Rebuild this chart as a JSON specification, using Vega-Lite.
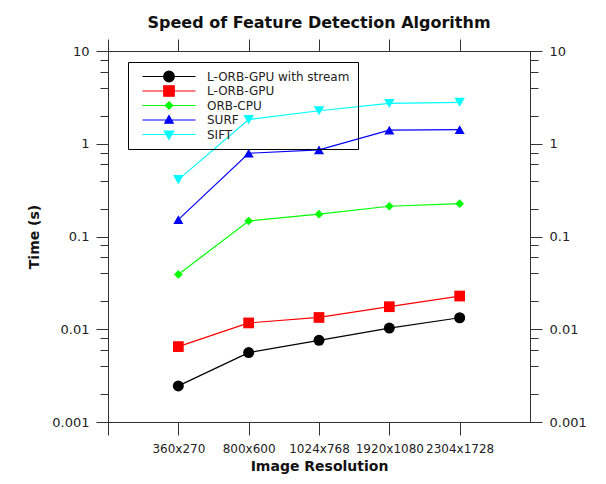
{
  "$schema": "https://vega.github.io/schema/vega-lite/v6.json",
  "width": 422,
  "height": 371,
  "autosize": "none",
  "padding": {"left": 108, "top": 51, "right": 76, "bottom": 62},
  "background": "white",
  "title": {"text": "Speed of Feature Detection Algorithm", "font": "DejaVu Sans", "fontSize": 16, "fontWeight": "bold", "color": "#111", "anchor": "middle", "offset": 8},
  "data": {"values": [
    {"series": "L-ORB-GPU with stream", "res": "360x270", "t": 0.00245},
    {"series": "L-ORB-GPU with stream", "res": "800x600", "t": 0.0056},
    {"series": "L-ORB-GPU with stream", "res": "1024x768", "t": 0.0076},
    {"series": "L-ORB-GPU with stream", "res": "1920x1080", "t": 0.0103},
    {"series": "L-ORB-GPU with stream", "res": "2304x1728", "t": 0.0133},
    {"series": "L-ORB-GPU", "res": "360x270", "t": 0.0065},
    {"series": "L-ORB-GPU", "res": "800x600", "t": 0.0117},
    {"series": "L-ORB-GPU", "res": "1024x768", "t": 0.0134},
    {"series": "L-ORB-GPU", "res": "1920x1080", "t": 0.0175},
    {"series": "L-ORB-GPU", "res": "2304x1728", "t": 0.0228},
    {"series": "ORB-CPU", "res": "360x270", "t": 0.039},
    {"series": "ORB-CPU", "res": "800x600", "t": 0.147},
    {"series": "ORB-CPU", "res": "1024x768", "t": 0.174},
    {"series": "ORB-CPU", "res": "1920x1080", "t": 0.212},
    {"series": "ORB-CPU", "res": "2304x1728", "t": 0.226},
    {"series": "SURF", "res": "360x270", "t": 0.152},
    {"series": "SURF", "res": "800x600", "t": 0.79},
    {"series": "SURF", "res": "1024x768", "t": 0.86},
    {"series": "SURF", "res": "1920x1080", "t": 1.40},
    {"series": "SURF", "res": "2304x1728", "t": 1.42},
    {"series": "SIFT", "res": "360x270", "t": 0.41},
    {"series": "SIFT", "res": "800x600", "t": 1.82},
    {"series": "SIFT", "res": "1024x768", "t": 2.27},
    {"series": "SIFT", "res": "1920x1080", "t": 2.72},
    {"series": "SIFT", "res": "2304x1728", "t": 2.80}
  ]},
  "config": {
    "view": {"stroke": null},
    "font": "DejaVu Sans",
    "axis": {"grid": false, "domainColor": "#333", "tickColor": "#333", "domainWidth": 1, "tickWidth": 1, "labelColor": "#222", "labelFont": "DejaVu Sans", "titleFont": "DejaVu Sans", "titleFontWeight": "bold", "titleFontSize": 14, "titleColor": "#111"},
    "legend": {"orient": "none", "legendX": 20, "legendY": 11, "title": null, "padding": 8, "strokeColor": "black", "labelFont": "DejaVu Sans", "labelFontSize": 12, "labelColor": "#222", "symbolOffset": 27, "labelOffset": 32, "rowPadding": 1.5, "clipHeight": 13, "symbolSize": 100, "symbolStrokeWidth": 1.2, "symbolOpacity": 1}
  },
  "resolve": {"axis": {"x": "independent", "y": "independent"}},
  "layer": [
    {
      "mark": {"type": "line", "strokeWidth": 1.2},
      "encoding": {
        "x": {"field": "res", "type": "ordinal", "scale": {"type": "point", "domain": ["p0", "360x270", "800x600", "1024x768", "1920x1080", "2304x1728", "p6"], "padding": 0},
              "axis": {"orient": "bottom", "values": ["p0", "360x270", "800x600", "1024x768", "1920x1080", "2304x1728"], "labelExpr": "datum.value == 'p0' ? '' : datum.label", "labelAngle": 0, "labelFontSize": 12, "tickSize": 13, "labelPadding": 8, "title": "Image Resolution", "titlePadding": 5}},
        "y": {"field": "t", "type": "quantitative", "scale": {"type": "log", "domain": [0.001, 10]},
              "axis": {"orient": "left", "values": [0.001, 0.01, 0.1, 1, 10], "format": "~g", "labelFontSize": 13, "tickSize": 12, "labelPadding": 7, "title": "Time (s)", "titlePadding": 10}},
        "color": {"field": "series", "type": "nominal", "scale": {"range": ["#ff0000", "#000000", "#00ff00", "#00ffff", "#0000ff"]}, "legend": null},
        "order": {"value": null}
      }
    },
    {
      "mark": {"type": "point", "filled": true, "opacity": 1},
      "encoding": {
        "x": {"field": "res", "type": "ordinal", "axis": {"orient": "top", "values": ["p0", "360x270", "800x600", "1024x768", "1920x1080", "2304x1728"], "labels": false, "tickSize": 12, "title": null}},
        "y": {"field": "t", "type": "quantitative", "axis": {"orient": "right", "values": [0.001, 0.01, 0.1, 1, 10], "format": "~g", "labelFontSize": 13, "tickSize": 12, "labelPadding": 7, "title": null}},
        "color": {"field": "series", "type": "nominal", "legend": null},
        "shape": {"condition": [
            {"test": "datum.series == 'L-ORB-GPU'", "value": "square"},
            {"test": "datum.series == 'ORB-CPU'", "value": "diamond"},
            {"test": "datum.series == 'SURF'", "value": "triangle-up"},
            {"test": "datum.series == 'SIFT'", "value": "triangle-down"}], "value": "circle"},
        "size": {"condition": [
            {"test": "datum.series == 'L-ORB-GPU'", "value": 115},
            {"test": "datum.series == 'ORB-CPU'", "value": 75},
            {"test": "datum.series == 'SURF'", "value": 100},
            {"test": "datum.series == 'SIFT'", "value": 110}], "value": 121}
      }
    },
    {
      "transform": [{"filter": "false"}],
      "mark": {"type": "point", "strokeWidth": 1.2, "opacity": 1},
      "encoding": {
        "x": {"field": "res", "type": "ordinal", "axis": null},
        "y": {"field": "t", "type": "quantitative", "axis": {"orient": "left", "values": [0.002, 0.004, 0.006, 0.008, 0.02, 0.04, 0.06, 0.08, 0.2, 0.4, 0.6, 0.8, 2, 4, 6, 8], "labels": false, "tickSize": 8, "title": null}},
        "fill": {"field": "series", "type": "nominal",
          "scale": {"domain": ["L-ORB-GPU with stream", "L-ORB-GPU", "ORB-CPU", "SURF", "SIFT"], "range": ["#000000", "#ff0000", "#00ff00", "#0000ff", "#00ffff"]}},
        "stroke": {"field": "series", "type": "nominal",
          "scale": {"domain": ["L-ORB-GPU with stream", "L-ORB-GPU", "ORB-CPU", "SURF", "SIFT"], "range": ["#000000", "#ff0000", "#00ff00", "#0000ff", "#00ffff"]}},
        "shape": {"field": "series", "type": "nominal",
          "scale": {"domain": ["L-ORB-GPU with stream", "L-ORB-GPU", "ORB-CPU", "SURF", "SIFT"],
                    "range": ["M-5.3,0H5.3M1.06,0A1.06,1.06,0,1,1,-1.06,0A1.06,1.06,0,1,1,1.06,0Z", "M-5.3,0H5.3M-1.05,-1.05H1.05V1.05H-1.05Z", "M-5.3,0H5.3M0,-0.75L0.75,0L0,0.75L-0.75,0Z", "M-5.3,0H5.3M0,-0.9L0.85,0.65L-0.85,0.65Z", "M-5.3,0H5.3M0,0.95L0.95,-0.7L-0.95,-0.7Z"]}}
      }
    },
    {
      "transform": [{"filter": "false"}],
      "mark": {"type": "point"},
      "encoding": {
        "x": {"field": "res", "type": "ordinal", "axis": null},
        "y": {"field": "t", "type": "quantitative", "axis": {"orient": "right", "values": [0.002, 0.004, 0.006, 0.008, 0.02, 0.04, 0.06, 0.08, 0.2, 0.4, 0.6, 0.8, 2, 4, 6, 8], "labels": false, "tickSize": 8, "title": null}}
      }
    }
  ]
}
